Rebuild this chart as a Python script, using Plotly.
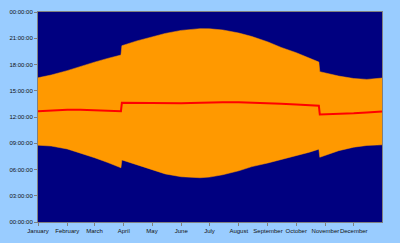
import plotly.graph_objects as go

dates = ["2008-01-01", "2008-01-15", "2008-02-01", "2008-02-15", "2008-03-01",
         "2008-03-15", "2008-03-29", "2008-03-30", "2008-04-15", "2008-05-01",
         "2008-05-15", "2008-06-01", "2008-06-11", "2008-06-21", "2008-07-01",
         "2008-07-15", "2008-08-01", "2008-08-15", "2008-09-01", "2008-09-15",
         "2008-10-01", "2008-10-15", "2008-10-25", "2008-10-26", "2008-11-15",
         "2008-12-01", "2008-12-15", "2008-12-31"]

sunrise = [8.78, 8.68, 8.35, 7.90, 7.35, 6.80, 6.20, 7.10, 6.55, 5.95,
           5.50, 5.17, 5.08, 5.06, 5.13, 5.40, 5.85, 6.33, 6.75, 7.12,
           7.55, 7.98, 8.32, 7.40, 8.15, 8.55, 8.75, 8.82]

sunset = [16.48, 16.80, 17.30, 17.80, 18.27, 18.70, 19.08, 20.15, 20.70, 21.15,
          21.55, 21.90, 22.04, 22.10, 22.08, 21.95, 21.60, 21.20, 20.58, 19.95,
          19.35, 18.72, 18.28, 17.18, 16.68, 16.40, 16.30, 16.45]

noon = [12.66, 12.76, 12.82, 12.84, 12.80, 12.75, 12.66, 13.62, 13.60, 13.55,
        13.54, 13.56, 13.59, 13.63, 13.66, 13.70, 13.70, 13.67, 13.60, 13.52,
        13.43, 13.37, 13.30, 12.30, 12.34, 12.42, 12.52, 12.63]

ytick_vals = [0, 3, 6, 9, 12, 15, 18, 21, 24]
ytick_text = ["00:00:00", "03:00:00", "06:00:00", "09:00:00", "12:00:00",
              "15:00:00", "18:00:00", "21:00:00", "00:00:00"]

fig = go.Figure()
fig.add_trace(go.Scatter(x=dates, y=sunrise, mode="lines",
                         line=dict(color="#FF9900", width=0.5),
                         hoverinfo="skip", showlegend=False))
fig.add_trace(go.Scatter(x=dates, y=sunset, mode="lines", fill="tonexty",
                         fillcolor="#FF9900",
                         line=dict(color="#FF9900", width=0.5),
                         hoverinfo="skip", showlegend=False))
fig.add_trace(go.Scatter(x=dates, y=noon, mode="lines",
                         line=dict(color="#FF0000", width=2),
                         showlegend=False))

axis_font = dict(family="Liberation Sans, Arial, sans-serif", size=6, color="#111111")

fig.update_layout(
    width=400, height=243,
    margin=dict(l=30, r=18, t=9, b=18),
    paper_bgcolor="#99CCFF",
    plot_bgcolor="#000080",
    xaxis=dict(type="date", range=["2008-01-01", "2008-12-31"],
               tick0="2008-01-01", dtick="M1", tickformat="%B", tickangle=0,
               showgrid=False, zeroline=False, ticks="outside", ticklen=3,
               tickcolor="#808080", showline=True, linecolor="#808080",
               linewidth=1, mirror=True, tickfont=axis_font),
    yaxis=dict(range=[0, 24], tickvals=ytick_vals, ticktext=ytick_text,
               showgrid=False, zeroline=False, ticks="outside", ticklen=3,
               tickcolor="#808080", showline=True, linecolor="#808080",
               linewidth=1, mirror=True, tickfont=axis_font),
)

fig.write_html("out.html")
